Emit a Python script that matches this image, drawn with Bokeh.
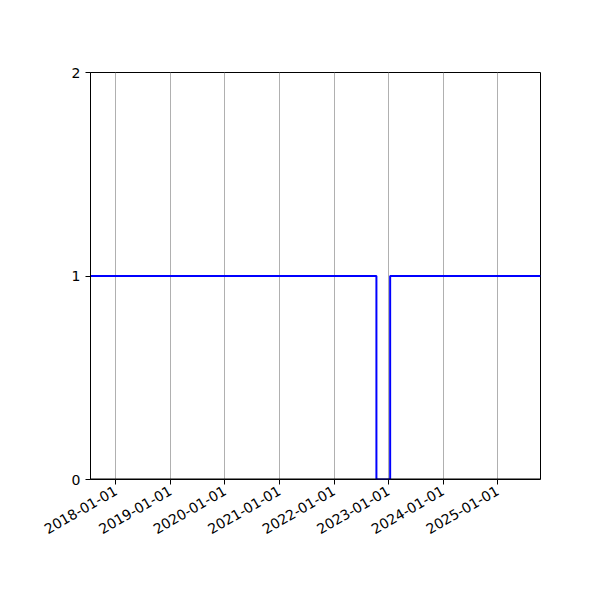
import datetime as dt
from math import pi
from bokeh.plotting import figure
from bokeh.models import FixedTicker, Range1d, Span
from bokeh.embed import file_html
from bokeh.resources import INLINE

# data
dates = ["2017-07-15", "2022-10-12", "2023-01-12", "2025-10-15"]
values = [1, 0, 1, 1]
tick_labels = ["2018-01-01", "2019-01-01", "2020-01-01", "2021-01-01",
               "2022-01-01", "2023-01-01", "2024-01-01", "2025-01-01"]
y_ticks = [0, 1, 2]

def ms(s):
    d = dt.datetime.strptime(s, "%Y-%m-%d").replace(tzinfo=dt.timezone.utc)
    return d.timestamp() * 1000.0

xs = [ms(d) for d in dates]
tick_ms = [ms(t) for t in tick_labels]

p = figure(frame_width=450, frame_height=407, x_axis_type="datetime",
           output_backend="svg", toolbar_location=None,
           min_border_left=90, min_border_right=52, min_border_top=72,
           min_border_bottom=113,
           x_range=Range1d(xs[0], xs[-1]), y_range=Range1d(0, 2),
           background_fill_color="white", border_fill_color="white")

p.step(xs, values, mode="after", line_color="blue", line_width=2)

# bottom spine drawn over the plot, as in the reference
p.add_layout(Span(location=0, dimension="width", line_color="black",
                  line_width=2, level="overlay"))

font = "DejaVu Sans"
for ax in (p.xaxis[0], p.yaxis[0]):
    ax.major_label_text_font = font
    ax.major_label_text_font_size = "14px"
    ax.major_label_text_color = "black"
    ax.axis_line_color = "black"
    ax.axis_line_width = 1
    ax.major_tick_line_color = "black"
    ax.major_tick_out = 5
    ax.major_tick_in = 0
    ax.minor_tick_line_color = None

p.xaxis.axis_line_color = None
p.xaxis.ticker = FixedTicker(ticks=tick_ms)
p.xaxis.major_label_overrides = {t: lab for t, lab in zip(tick_ms, tick_labels)}
p.xaxis.major_label_orientation = pi / 6
p.xaxis.major_label_standoff = 5
p.yaxis.ticker = FixedTicker(ticks=y_ticks)
p.yaxis.major_label_standoff = 5

p.xgrid.grid_line_color = "#b0b0b0"
p.xgrid.grid_line_width = 1
p.ygrid.grid_line_color = None
p.outline_line_color = "black"
p.outline_line_width = 1
p.outline_line_alpha = 1

open("out.html", "w").write(file_html(p, INLINE))
